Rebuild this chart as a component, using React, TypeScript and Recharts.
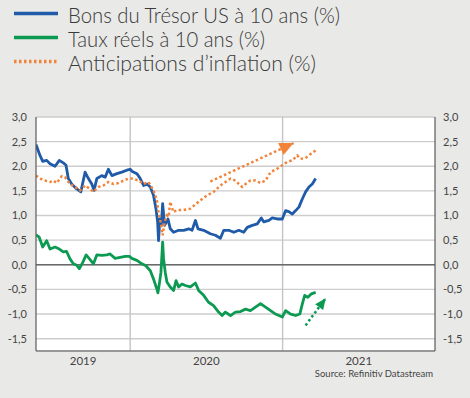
import React from 'react';
import { LineChart, Line, XAxis, YAxis, CartesianGrid, ReferenceLine } from 'recharts';

// ---- Data (dates as decimal years) ----
const bondDates = [
  2019.382, 2019.408, 2019.426, 2019.452, 2019.474, 2019.507, 2019.535, 2019.561, 2019.579, 2019.594,
  2019.616, 2019.649, 2019.676, 2019.704, 2019.726, 2019.748, 2019.763, 2019.781, 2019.814, 2019.836,
  2019.857, 2019.880, 2019.913, 2019.945, 2019.978, 2020.000, 2020.011, 2020.044, 2020.066, 2020.088,
  2020.110, 2020.132, 2020.153, 2020.169, 2020.180, 2020.186, 2020.195, 2020.204, 2020.213, 2020.226,
  2020.248, 2020.263, 2020.285, 2020.318, 2020.351, 2020.384, 2020.406, 2020.428, 2020.445, 2020.482,
  2020.526, 2020.559, 2020.592, 2020.614, 2020.647, 2020.680, 2020.713, 2020.745, 2020.768, 2020.801,
  2020.834, 2020.860, 2020.877, 2020.910, 2020.932, 2020.965, 2020.998, 2021.020, 2021.041, 2021.064,
  2021.086, 2021.107, 2021.130, 2021.151, 2021.173, 2021.195, 2021.217,
];
const bondValues = [
  2.44, 2.22, 2.10, 2.12, 2.05, 2.00, 2.12, 2.07, 2.02, 1.75,
  1.64, 1.54, 1.48, 1.88, 1.75, 1.64, 1.51, 1.75, 1.81, 1.78,
  1.94, 1.81, 1.85, 1.88, 1.92, 1.94, 1.90, 1.85, 1.75, 1.61,
  1.64, 1.58, 1.41, 1.14, 0.87, 0.49, 0.93, 0.80, 1.24, 0.80,
  0.93, 0.73, 0.66, 0.70, 0.70, 0.73, 0.70, 0.90, 0.73, 0.70,
  0.63, 0.60, 0.54, 0.70, 0.70, 0.66, 0.70, 0.66, 0.76, 0.80,
  0.83, 0.95, 0.87, 0.90, 0.95, 0.93, 0.93, 1.10, 1.08, 1.03,
  1.10, 1.17, 1.34, 1.48, 1.58, 1.64, 1.75,
];

const realDates = [
  2019.382, 2019.403, 2019.426, 2019.452, 2019.474, 2019.507, 2019.535, 2019.561, 2019.583, 2019.605,
  2019.627, 2019.649, 2019.666, 2019.689, 2019.711, 2019.733, 2019.759, 2019.781, 2019.814, 2019.847,
  2019.868, 2019.901, 2019.934, 2019.967, 2019.995, 2020.011, 2020.044, 2020.077, 2020.103, 2020.132,
  2020.153, 2020.175, 2020.182, 2020.193, 2020.202, 2020.213, 2020.219, 2020.230, 2020.241, 2020.263,
  2020.285, 2020.301, 2020.318, 2020.340, 2020.362, 2020.395, 2020.428, 2020.449, 2020.482, 2020.514,
  2020.547, 2020.580, 2020.603, 2020.625, 2020.658, 2020.691, 2020.724, 2020.757, 2020.789, 2020.822,
  2020.855, 2020.888, 2020.921, 2020.954, 2020.998, 2021.020, 2021.053, 2021.086, 2021.113, 2021.130,
  2021.145, 2021.166, 2021.189, 2021.217,
];
const realValues = [
  0.61, 0.56, 0.36, 0.49, 0.32, 0.36, 0.32, 0.26, 0.27, 0.12,
  0.02, -0.01, -0.08, 0.05, 0.20, 0.12, 0.02, 0.20, 0.19, 0.20,
  0.22, 0.13, 0.15, 0.17, 0.17, 0.13, 0.09, 0.02, -0.02, -0.12,
  -0.29, -0.49, -0.57, -0.35, -0.15, 0.46, 0.12, -0.15, -0.35, -0.45,
  -0.52, -0.32, -0.45, -0.39, -0.42, -0.45, -0.37, -0.52, -0.62, -0.76,
  -0.83, -0.96, -1.03, -0.96, -1.03, -0.96, -0.95, -0.90, -0.93, -0.86,
  -0.79, -0.86, -0.93, -1.00, -1.06, -0.93, -1.00, -1.03, -1.00, -0.79,
  -0.62, -0.66, -0.59, -0.56,
];

const inflDates = [
  2019.382, 2019.408, 2019.441, 2019.474, 2019.495, 2019.518, 2019.551, 2019.572, 2019.605, 2019.638,
  2019.671, 2019.704, 2019.737, 2019.759, 2019.791, 2019.824, 2019.857, 2019.890, 2019.923, 2019.956,
  2019.989, 2020.011, 2020.055, 2020.088, 2020.120, 2020.153, 2020.175, 2020.186, 2020.204, 2020.213,
  2020.226, 2020.241, 2020.252, 2020.263, 2020.283, 2020.307, 2020.350, 2020.395, 2020.461, 2020.505,
  2020.547, 2020.592, 2020.625, 2020.658, 2020.691, 2020.713, 2020.735, 2020.757, 2020.789, 2020.822,
  2020.855, 2020.888, 2020.921, 2020.965, 2020.998, 2021.031, 2021.064, 2021.096, 2021.118, 2021.151,
  2021.184, 2021.217,
];
const inflValues = [
  1.81, 1.75, 1.71, 1.68, 1.71, 1.66, 1.80, 1.78, 1.64, 1.58,
  1.51, 1.61, 1.54, 1.48, 1.58, 1.61, 1.68, 1.64, 1.66, 1.71,
  1.75, 1.75, 1.71, 1.64, 1.68, 1.51, 1.31, 1.07, 0.80, 0.60,
  0.87, 1.00, 0.97, 1.28, 1.07, 1.11, 1.11, 1.14, 1.31, 1.41,
  1.48, 1.61, 1.68, 1.75, 1.71, 1.64, 1.58, 1.64, 1.71, 1.71,
  1.66, 1.71, 1.88, 1.95, 2.02, 2.09, 2.12, 2.22, 2.15, 2.17,
  2.25, 2.32,
];

// Trend arrows (annotations)
const inflArrowDates = [2020.526, 2021.072];
const inflArrowValues = [1.69, 2.47];
const realArrowDates = [2021.151, 2021.283];
const realArrowValues = [-1.23, -0.68];

const yTicks = [-1.5, -1.0, -0.5, 0, 0.5, 1.0, 1.5, 2.0, 2.5, 3.0];
const yearLabels = ['2019', '2020', '2021'];
const yearLabelPos = [2019.691, 2020.5, 2021.5];
const yearBoundaries = [2020, 2021];
const xDomain = [2019.382, 2022.0];
const yDomain = [-1.75, 3.0];

const seriesNames = [
  'Bons du Trésor US à 10 ans (%)',
  'Taux réels à 10 ans (%)',
  'Anticipations d\u2019inflation (%)',
];

const BLUE = '#1f5ba8';
const GREEN = '#0c9a52';
const ORANGE = '#f2843a';
const BG = '#e9e9e7';
const FONT = 'Lato, "Open Sans", sans-serif';

const toPoints = (d: number[], v: number[]) => d.map((t, i) => ({ t, v: v[i] }));

const bondData = toPoints(bondDates, bondValues);
const realData = toPoints(realDates, realValues);
const inflData = toPoints(inflDates, inflValues);
const inflArrow = toPoints(inflArrowDates, inflArrowValues);
const realArrow = toPoints(realArrowDates, realArrowValues);

const fmt = (v: number) => v.toFixed(1).replace('.', ',');

const makeHead = (color: string, len: number, half: number, fallback: number) => (props: any) => {
  const { cx, cy, index, points } = props;
  if (index !== 1 || cx == null || cy == null) return <g key={`h${index}`} />;
  const p0 = points && points[0];
  const ang = p0 ? Math.atan2(cy - p0.y, cx - p0.x) : fallback;
  const bx = cx - len * Math.cos(ang);
  const by = cy - len * Math.sin(ang);
  const nx = -Math.sin(ang) * half;
  const ny = Math.cos(ang) * half;
  return (
    <polygon
      key={`h${index}`}
      points={`${cx},${cy} ${bx + nx},${by + ny} ${bx - nx},${by - ny}`}
      fill={color}
    />
  );
};

const legendItems = [
  { name: seriesNames[0], color: BLUE, dash: undefined as string | undefined, width: 272 },
  { name: seriesNames[1], color: GREEN, dash: undefined as string | undefined, width: 197 },
  { name: seriesNames[2], color: ORANGE, dash: '2.5 2.5', width: 248 },
];

const YearTick = (props: any) => {
  const { x, y, payload } = props;
  const idx = yearLabelPos.indexOf(payload.value);
  return (
    <text x={x} y={y} dy="0.71em" textAnchor="middle" fill="#444" fontSize={11.5} fontFamily={FONT}>
      {idx >= 0 ? yearLabels[idx] : ''}
    </text>
  );
};

export default function App() {
  return (
    <div style={{ position: 'absolute', left: 0, top: 0, width: 470, height: 398, background: BG, overflow: 'hidden' }}>
      <svg width={470} height={80} style={{ position: 'absolute', left: 0, top: 0 }}>
        {legendItems.map((it, i) => (
          <g key={it.name}>
            <line x1={14} x2={58} y1={13.5 + i * 24} y2={13.5 + i * 24} stroke={it.color} strokeWidth={3.3} strokeDasharray={it.dash} />
            <text
              x={68}
              y={22.7 + i * 24}
              fontSize={21.5}
              fontFamily={FONT}
              fontWeight={300}
              fill="#3a3a3a"
              textLength={it.width}
              lengthAdjust="spacingAndGlyphs"
            >
              {it.name}
            </text>
          </g>
        ))}
      </svg>
      <LineChart width={470} height={398} margin={{ top: 117, right: 0, bottom: 0, left: 0 }}>
        <CartesianGrid
          yAxisId="left"
          vertical={false}
          stroke="#cdcdcd"
          strokeWidth={1.4}
          fill="#ffffff"
          fillOpacity={1}
        />
        <XAxis
          dataKey="t"
          type="number"
          domain={xDomain}
          allowDataOverflow
          ticks={yearLabelPos}
          tick={<YearTick />}
          tickLine={false}
          tickSize={0}
          tickMargin={6}
          height={47}
          axisLine={{ stroke: '#5a5a5a', strokeWidth: 1.2 }}
          interval={0}
        />
        <XAxis
          xAxisId="top"
          orientation="top"
          type="number"
          domain={xDomain}
          allowDataOverflow
          tick={false}
          tickLine={false}
          height={0}
          axisLine={{ stroke: '#5a5a5a', strokeWidth: 1.2 }}
        />
        <YAxis
          yAxisId="left"
          type="number"
          domain={yDomain}
          allowDataOverflow
          ticks={yTicks}
          interval={0}
          tickFormatter={fmt}
          width={36}
          tickLine={false}
          tickSize={0}
          tickMargin={9}
          axisLine={{ stroke: '#5a5a5a', strokeWidth: 1.2 }}
          tick={{ fill: '#444', fontSize: 11, fontFamily: FONT }}
        />
        <YAxis
          yAxisId="right"
          orientation="right"
          type="number"
          domain={yDomain}
          allowDataOverflow
          ticks={yTicks}
          interval={0}
          tickFormatter={fmt}
          width={35}
          tickLine={false}
          tickSize={0}
          tickMargin={8}
          axisLine={{ stroke: '#5a5a5a', strokeWidth: 1.2 }}
          tick={{ fill: '#444', fontSize: 11, fontFamily: FONT, textAnchor: 'start' }}
        />
        {yearBoundaries.map((b) => (
          <ReferenceLine key={b} x={b} yAxisId="left" stroke="#c4c4c4" strokeWidth={1.4} />
        ))}
        <ReferenceLine y={0} yAxisId="left" stroke="#6a6a6a" strokeWidth={1.4} />
        <Line
          data={bondData}
          dataKey="v"
          yAxisId="left"
          type="linear"
          stroke={BLUE}
          strokeWidth={2.8}
          dot={false}
          isAnimationActive={false}
          strokeLinejoin="round"
        />
        <Line
          data={inflData}
          dataKey="v"
          yAxisId="left"
          type="linear"
          stroke={ORANGE}
          strokeWidth={2.5}
          strokeDasharray="2.5 2.5"
          dot={false}
          isAnimationActive={false}
        />
        <Line
          data={realData}
          dataKey="v"
          yAxisId="left"
          type="linear"
          stroke={GREEN}
          strokeWidth={2.8}
          dot={false}
          isAnimationActive={false}
          strokeLinejoin="round"
        />
        <Line
          data={inflArrow}
          dataKey="v"
          yAxisId="left"
          type="linear"
          stroke={ORANGE}
          strokeWidth={2.5}
          strokeDasharray="2.5 2.5"
          dot={makeHead(ORANGE, 14, 6.5, -0.43)}
          activeDot={false}
          isAnimationActive={false}
        />
        <Line
          data={realArrow}
          dataKey="v"
          yAxisId="left"
          type="linear"
          stroke={GREEN}
          strokeWidth={2.5}
          strokeDasharray="2.5 2.5"
          dot={makeHead(GREEN, 11, 5, -0.94)}
          activeDot={false}
          isAnimationActive={false}
        />
      </LineChart>
      <div
        style={{
          position: 'absolute',
          right: 37,
          top: 369,
          fontSize: 9.5,
          lineHeight: 1,
          fontFamily: FONT,
          color: '#444',
          whiteSpace: 'nowrap',
        }}
      >
        Source: Refinitiv Datastream
      </div>
    </div>
  );
}
